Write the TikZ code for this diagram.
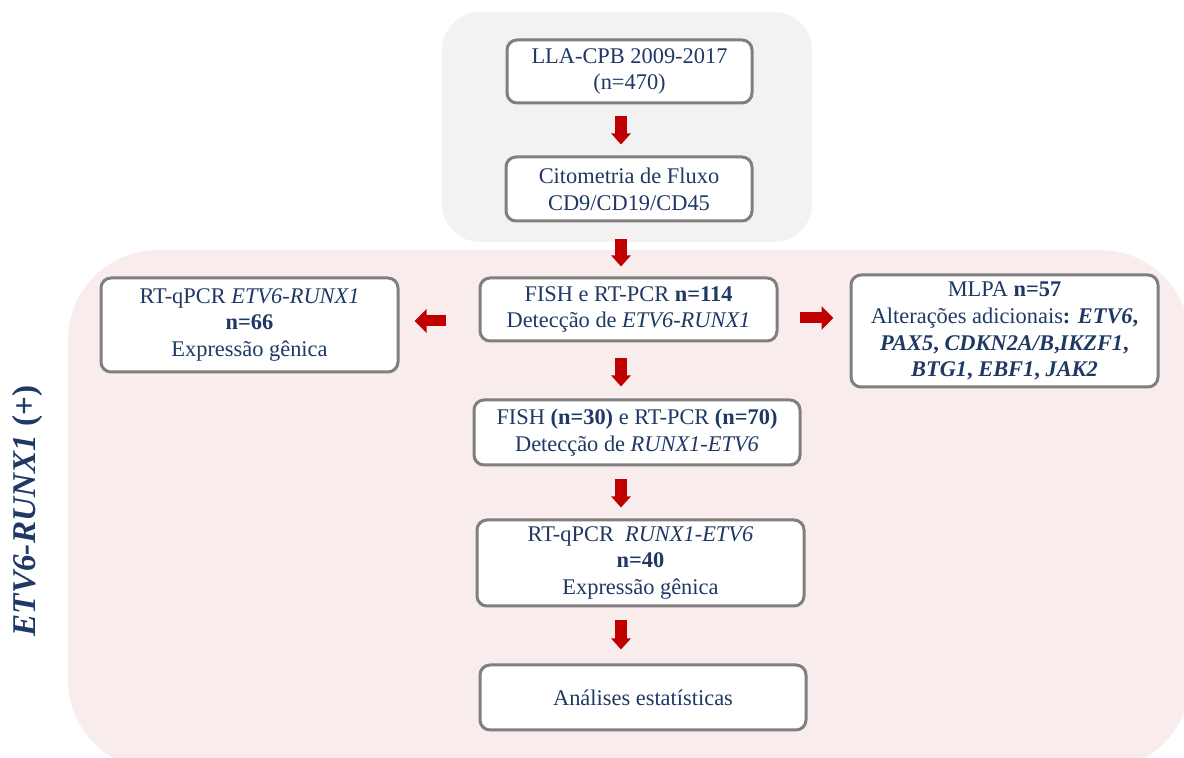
\documentclass[tikz,border=0pt]{standalone}
\usepackage{fontspec}
\setmainfont{Liberation Serif}
\usetikzlibrary{arrows.meta}
\definecolor{navy}{RGB}{31,56,100}
\definecolor{boxgray}{RGB}{127,127,127}
\definecolor{bggray}{RGB}{242,242,242}
\definecolor{bgpink}{RGB}{249,236,236}
\definecolor{arrowred}{RGB}{192,0,0}
\tikzset{
  box/.style={draw=boxgray, line width=1.5pt, rounded corners=5pt, fill=white,
    align=center, text=navy, inner sep=2pt,
    font=\fontsize{11.2}{13.4}\selectfont},
  varrow/.style={arrowred, line width=6pt, line cap=butt,
    -{Triangle[width=9.5pt,length=5.5pt]}},
  harrow/.style={arrowred, line width=5.5pt, line cap=butt,
    -{Triangle[width=11.5pt,length=6pt]}}
}
\begin{document}
\begin{tikzpicture}[x=0.5pt,y=-0.5pt]
\useasboundingbox (0,0) rectangle (1184,758);
% background regions
\fill[bgpink, rounded corners=45pt] (68,250) rectangle (1190,770);
\fill[bggray, rounded corners=19pt] (442,12) rectangle (812,242);
% boxes
\node[box, minimum width=122.5pt, minimum height=31.5pt] (b1) at (629.5,71.5) {LLA-CPB 2009-2017\\(n=470)};
\node[box, minimum width=123pt, minimum height=32pt] (b2) at (629,189) {Citometria de Fluxo\\CD9/CD19/CD45};
\node[box, minimum width=148.5pt, minimum height=31.5pt] (b3) at (628.5,309.5) {FISH e RT-PCR \textbf{n=114}\\Detecção de \textit{ETV6-RUNX1}};
\node[box, minimum width=148.5pt, minimum height=47pt] (b4) at (249.5,325) {RT-qPCR \textit{ETV6-RUNX1}\\\textbf{n=66}\\Expressão gênica};
\node[box, minimum width=153.5pt, minimum height=56pt] (b5) at (1004.5,331) {MLPA \textbf{n=57}\\Alterações adicionais\textbf{: \textit{ETV6},}\\\textbf{\textit{PAX5}, \textit{CDKN2A/B},\textit{IKZF1},}\\\textbf{\textit{BTG1}, \textit{EBF1}, \textit{JAK2}}};
\node[box, minimum width=163pt, minimum height=32.5pt] (b6) at (637,432.5) {FISH \textbf{(n=30)} e RT-PCR \textbf{(n=70)}\\Detecção de \textit{RUNX1-ETV6}};
\node[box, minimum width=163.5pt, minimum height=43pt] (b7) at (640.5,563) {RT-qPCR\ \ \textit{RUNX1-ETV6}\\\textbf{n=40}\\Expressão gênica};
\node[box, minimum width=163pt, minimum height=32.5pt] (b8) at (643,697.5) {Análises estatísticas};
% side label
\node[rotate=90, text=navy, font=\fontsize{16.6}{19}\selectfont\bfseries] (lbl) at (28,511) {\textit{ETV6-RUNX1} (+)};
% arrow guide coordinates
\coordinate (ax) at (621,0);
\coordinate (ayl) at (0,321);
\coordinate (ayr) at (0,318);
% arrows
\draw[varrow, shorten <=6pt, shorten >=5.5pt] (b1.south -| ax) -- (b2.north -| ax);
\draw[varrow, shorten <=8.5pt, shorten >=5pt] (b2.south -| ax) -- (b3.north -| ax);
\draw[varrow, shorten <=8pt, shorten >=6pt] (b3.south -| ax) -- (b6.north -| ax);
\draw[varrow, shorten <=6.5pt, shorten >=5.5pt] (b6.south -| ax) -- (b7.north -| ax);
\draw[varrow, shorten <=6.5pt, shorten >=7pt] (b7.south -| ax) -- (b8.north -| ax);
\draw[harrow, shorten <=16.5pt, shorten >=7.5pt] (b3.west |- ayl) -- (b4.east |- ayl);
\draw[harrow, shorten <=10.5pt, shorten >=8pt] (b3.east |- ayr) -- (b5.west |- ayr);
\end{tikzpicture}
\end{document}
